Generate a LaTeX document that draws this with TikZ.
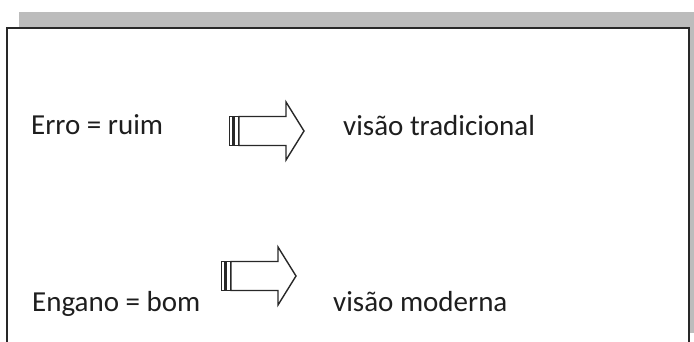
\documentclass[tikz,border=0pt]{standalone}
\usepackage{fontspec}
\setmainfont{Carlito}
\usetikzlibrary{positioning}
\definecolor{shadowgray}{RGB}{188,188,188}
\definecolor{framegray}{RGB}{40,40,40}
\definecolor{textgray}{RGB}{30,30,30}

\begin{document}
\begin{tikzpicture}[x=1pt,y=-1pt]
        \tikzstyle{txt}=[anchor=base west, inner sep=0pt, text=textgray, font=\fontsize{29}{34}\selectfont]
        \tikzstyle{blockarrow}=[draw=framegray, line width=1.4pt, fill=white, line join=miter]
        \tikzstyle{bar}=[draw=framegray, line width=1.4pt, fill=white]
        \useasboundingbox (0,0) rectangle (694,342);

        % Shadow and frame
        \fill[shadowgray] (19,12) rectangle (694,333);
        \draw[framegray, line width=1.8pt, fill=white] (7,28) rectangle (689,360);

        % Texts
        \node (erro)[txt] at (31,135) {Erro = ruim};
        \node (tradicional)[txt] at (343,136) {visão tradicional};
        \node (engano)[txt] at (32,311) {Engano = bom};
        \node (moderna)[txt] at (333,311) {visão moderna};

        \begin{scope}[shift={(229,131)}]
            % Block arrow
            \draw[blockarrow] (10,-14.5) -- (57,-14.5) -- (57,-29) -- (75,0)
                -- (57,29) -- (57,14.5) -- (10,14.5) -- cycle;
            % Bars at the back
            \draw[bar] (0.7,-14.5) rectangle (3.8,14.5);
            \draw[bar] (5.6,-14.5) rectangle (9.6,14.5);
        \end{scope}

        \begin{scope}[shift={(221,276)}]
            % Block arrow
            \draw[blockarrow] (10,-14.5) -- (57,-14.5) -- (57,-29) -- (75,0)
                -- (57,29) -- (57,14.5) -- (10,14.5) -- cycle;
            % Bars at the back
            \draw[bar] (0.7,-14.5) rectangle (3.8,14.5);
            \draw[bar] (5.6,-14.5) rectangle (9.6,14.5);
        \end{scope}
    \end{tikzpicture}
\end{document}
